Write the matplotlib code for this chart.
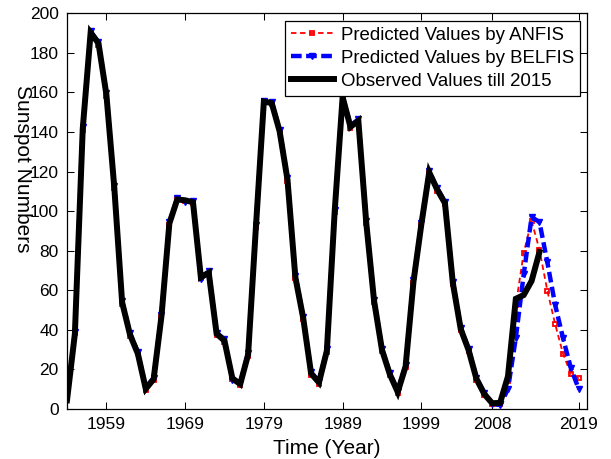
import matplotlib
matplotlib.use("Agg")
import matplotlib.pyplot as plt

plt.rcParams["font.family"] = ["Liberation Sans", "DejaVu Sans"]

# yearly sunspot numbers, observed 1954-2014
obs_years = list(range(1954, 2015))
observed = [
    4.4, 38.0, 141.7, 190.2, 184.8, 159.0, 112.3, 53.9, 37.6, 27.9,
    10.2, 15.1, 47.0, 93.8, 105.9, 105.5, 104.5, 66.6, 68.9, 38.0,
    34.5, 15.5, 12.6, 27.5, 92.5, 155.4, 154.6, 140.4, 115.9, 66.6,
    45.9, 17.9, 13.4, 29.4, 100.2, 157.6, 142.6, 145.7, 94.3, 54.6,
    29.9, 17.5, 8.6, 21.5, 64.3, 93.3, 119.6, 111.0, 104.0, 63.7,
    40.4, 29.8, 15.2, 7.5, 2.9, 3.1, 16.5, 55.7, 57.6, 64.7,
    79.3,
]

# model outputs 1955-2019
pred_years = list(range(1955, 2020))
anfis = [
    38.3, 141.2, 190.6, 184.1, 158.2, 111.6, 53.2, 37.0, 28.3, 9.6,
    14.5, 46.6, 93.0, 106.1, 104.9, 104.0, 66.0, 68.4, 37.5, 34.0,
    15.0, 12.0, 27.0, 92.0, 155.0, 154.2, 140.0, 115.2, 66.1, 45.3,
    17.4, 12.8, 28.9, 99.6, 157.1, 142.1, 145.2, 93.8, 54.1, 29.4,
    17.0, 8.0, 21.0, 63.8, 92.8, 119.1, 110.4, 103.6, 63.2, 39.9,
    29.3, 14.7, 7.0, 2.4, 2.7, 14.0, 52.5, 79.0, 95.0, 80.5,
    59.8, 42.8, 27.8, 17.7, 15.5,
]
belfis = [
    38.9, 142.4, 190.9, 185.3, 159.5, 112.8, 54.5, 38.3, 28.6, 10.7,
    15.8, 47.6, 94.4, 106.5, 104.8, 104.9, 65.9, 69.6, 38.6, 35.2,
    14.8, 13.1, 28.2, 93.2, 155.9, 155.1, 141.1, 116.6, 67.3, 46.5,
    18.5, 14.0, 30.1, 100.8, 158.1, 143.3, 146.4, 94.9, 55.2, 30.4,
    18.2, 9.2, 22.1, 65.0, 94.0, 120.1, 111.7, 104.7, 64.3, 41.0,
    30.4, 15.8, 8.1, 2.5, 2.0, 10.0, 36.0, 68.0, 97.0, 94.5,
    74.2, 52.5, 35.7, 20.5, 10.0,
]

tick_years = [1959, 1969, 1979, 1989, 1999, 2008, 2019]

fig = plt.figure(figsize=(6.11, 4.59), dpi=100)
ax = fig.add_axes([67 / 611, 1 - 409 / 459, (586.7 - 67) / 611, (409 - 13.3) / 459])

ax.plot(pred_years, anfis, color="red", linestyle="--", dashes=(3, 2), lw=1.3,
        marker="s", ms=3.5, mfc="none", mew=1.3, label="Predicted Values by ANFIS")
ax.plot(pred_years, belfis, color="blue", linestyle="--", dashes=(2.4, 1), lw=3.2,
        marker="v", ms=5, label="Predicted Values by BELFIS")
ax.plot(obs_years, observed, color="black", lw=4.3, solid_joinstyle="miter",
        label="Observed Values till 2015")

ax.set_xlim(1954, 2020)
ax.set_ylim(0, 200)
ax.set_xticks(tick_years)
ax.set_yticks(range(0, 201, 20))
ax.tick_params(direction="in", length=5, width=0.75, top=True, right=True,
               labelsize=12.5, pad=6)
for spine in ax.spines.values():
    spine.set_linewidth(0.9)

ax.set_xlabel("Time (Year)", fontsize=15, labelpad=5)
fig.text(22 / 611, 1 - 168.8 / 459, "Sunspot Numbers", rotation=270,
         ha="center", va="center", fontsize=15)

leg = ax.legend(loc="upper right", bbox_to_anchor=(580 / 611, 1 - 21 / 459),
                bbox_transform=fig.transFigure, fontsize=13.4, numpoints=1,
                fancybox=False, framealpha=1, edgecolor="black",
                handlelength=2.3, handletextpad=0.4, labelspacing=0.33,
                borderpad=0.3, borderaxespad=0)
leg.get_frame().set_linewidth(0.9)

fig.savefig("out.png", dpi=100)
